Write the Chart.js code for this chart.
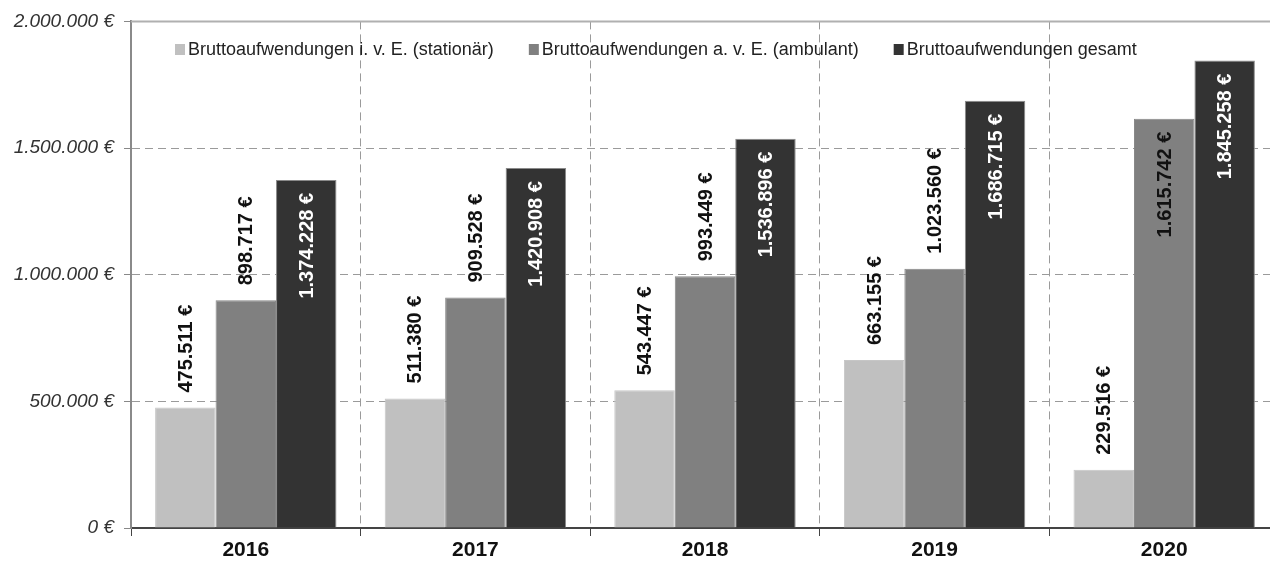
<!DOCTYPE html>
<html>
<head>
<meta charset="utf-8">
<script src="https://cdn.jsdelivr.net/npm/chart.js@4"></script>
<style>
    body { margin: 0; overflow: hidden; background: #fff; }
    #wrap { position: absolute; left: 0; top: 0; width: 1280px; height: 563px; }
</style>
</head>
<body>
<div id="wrap"><canvas id="aufwendungenChart"></canvas></div>
<script>
const jahre = ['2016', '2017', '2018', '2019', '2020'];
const stationaer = [475511, 511380, 543447, 663155, 229516];
const ambulant = [898717, 909528, 993449, 1023560, 1615742];
const gesamt = [1374228, 1420908, 1536896, 1686715, 1845258];
const serienNamen = [
    'Bruttoaufwendungen i. v. E. (stationär)',
    'Bruttoaufwendungen a. v. E. (ambulant)',
    'Bruttoaufwendungen gesamt'
];
const yMax = 2000000;
const yStep = 500000;

const farben = ['#c0c0c0', '#808080', '#333333'];
const rahmen = ['#c6c6c6', '#878787', '#8a8a8a'];
const schrift = '"Liberation Sans", Arial, sans-serif';

// 1234567 -> "1.234.567 €"
function euro(v) {
    return String(Math.round(v)).replace(/\B(?=(\d{3})+(?!\d))/g, '.') + ' €';
}

// legend + top line + value labels
const zeichnen = {
    id: 'zeichnen',
    afterDraw(chart) {
        const ctx = chart.ctx;
        const area = chart.chartArea;

        // solid top line at 2.000.000
        ctx.save();
        ctx.strokeStyle = '#b0b0b0';
        ctx.lineWidth = 2;
        ctx.beginPath();
        ctx.moveTo(area.left, area.top);
        ctx.lineTo(area.right, area.top);
        ctx.stroke();
        ctx.restore();

        // value labels
        chart.data.datasets.forEach(function(ds, i) {
            const meta = chart.getDatasetMeta(i);
            ctx.save();
            ctx.font = 'bold 20px ' + schrift;
            meta.data.forEach(function(bar, j) {
                const text = euro(ds.data[j]);
                const w = ctx.measureText(text).width;
                let inside = (i === 2) || (bar.y - 15 - w < area.top);
                ctx.save();
                if (inside) {
                    ctx.translate(bar.x, bar.y + 13);
                    ctx.rotate(-Math.PI / 2);
                    ctx.textAlign = 'right';
                    ctx.fillStyle = i === 2 ? '#ffffff' : '#111111';
                } else {
                    ctx.translate(bar.x, bar.y - 15);
                    ctx.rotate(-Math.PI / 2);
                    ctx.textAlign = 'left';
                    ctx.fillStyle = '#111111';
                }
                ctx.textBaseline = 'middle';
                ctx.fillText(text, 0, 1);
                ctx.restore();
            });
            ctx.restore();
        });

        // legend
        ctx.save();
        ctx.font = '18px ' + schrift;
        ctx.textBaseline = 'middle';
        let x = 175;
        const y = 50;
        serienNamen.forEach(function(name, i) {
            ctx.fillStyle = farben[i];
            ctx.fillRect(x, y - 6, 10, 11);
            ctx.fillStyle = '#222222';
            ctx.textAlign = 'left';
            ctx.fillText(name, x + 13, y);
            x += 13 + ctx.measureText(name).width + 35;
        });
        ctx.restore();
    }
};

const dataAufwendungen = {
    labels: jahre,
    datasets: [stationaer, ambulant, gesamt].map(function(werte, i) {
        return {
            label: serienNamen[i],
            data: werte,
            backgroundColor: farben[i],
            borderColor: rahmen[i],
            borderWidth: 1,
            borderSkipped: 'bottom',
            categoryPercentage: 0.79,
            barPercentage: 1.0
        };
    })
};

const configAufwendungen = {
    type: 'bar',
    data: dataAufwendungen,
    options: {
        responsive: true,
        maintainAspectRatio: false,
        animation: false,
        layout: { padding: { top: 21, right: 1, left: 0, bottom: 0 } },
        plugins: {
            legend: { display: false },
            tooltip: { enabled: false }
        },
        scales: {
            x: {
                offset: true,
                grid: {
                    offset: true,
                    color: '#9a9a9a',
                    lineWidth: 1,
                    tickColor: '#444444',
                    tickLength: 8,
                    tickBorderDash: []
                },
                border: { color: '#444444', width: 2, dash: [8, 5] },
                ticks: {
                    color: '#111111',
                    font: { family: schrift, size: 21, weight: 'bold' },
                    padding: 2
                },
                afterFit: function(axis) { axis.height = 35; }
            },
            y: {
                min: 0,
                max: yMax,
                ticks: {
                    stepSize: yStep,
                    color: '#333333',
                    font: { family: schrift, size: 19, style: 'italic' },
                    padding: 10,
                    callback: function(v) { return euro(v); }
                },
                grid: {
                    color: function(c) {
                        return (c.tick && (c.tick.value === 0 || c.tick.value === yMax)) ? 'rgba(0,0,0,0)' : '#9a9a9a';
                    },
                    lineWidth: 1,
                    tickColor: '#888888',
                    tickLength: 7,
                    tickBorderDash: []
                },
                border: { color: '#8a8a8a', width: 2, dash: [8, 5] },
                afterFit: function(axis) { axis.width = 131; }
            }
        }
    },
    plugins: [zeichnen]
};

const myAufwendungenChart = new Chart(
    document.getElementById('aufwendungenChart'),
    configAufwendungen
);
</script>
</body>
</html>
